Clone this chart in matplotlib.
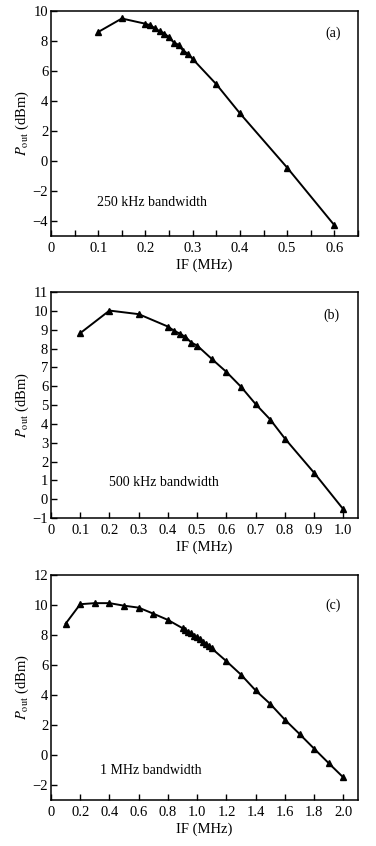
import matplotlib
matplotlib.use("Agg")
import matplotlib.pyplot as plt
import numpy as np

plt.rcParams["font.family"] = ["Liberation Serif", "DejaVu Serif"]
plt.rcParams["mathtext.fontset"] = "stix"

# (a) 250 kHz bandwidth
if_a = [0.10, 0.15, 0.20, 0.21, 0.22, 0.23, 0.24, 0.25, 0.26, 0.27, 0.28, 0.29,
        0.30, 0.35, 0.40, 0.50, 0.60]
pout_a = [8.6, 9.5, 9.15, 9.05, 8.85, 8.65, 8.5, 8.25, 7.9, 7.75, 7.35, 7.15,
          6.8, 5.12, 3.18, -0.44, -4.28]

# (b) 500 kHz bandwidth
if_b = [0.10, 0.20, 0.30, 0.40, 0.42, 0.44, 0.46, 0.48, 0.50, 0.55, 0.60, 0.65,
        0.70, 0.75, 0.80, 0.90, 1.00]
pout_b = [8.82, 10.02, 9.83, 9.17, 8.96, 8.8, 8.62, 8.32, 8.16, 7.45, 6.76, 5.97,
          5.05, 4.23, 3.22, 1.4, -0.54]

# (c) 1 MHz bandwidth
if_c = [0.1, 0.2, 0.3, 0.4, 0.5, 0.6, 0.7, 0.8, 0.9, 0.92, 0.94, 0.96, 0.98,
        1.0, 1.02, 1.04, 1.06, 1.08, 1.1, 1.2, 1.3, 1.4, 1.5, 1.6, 1.7, 1.8,
        1.9, 2.0]
pout_c = [8.75, 10.05, 10.12, 10.12, 9.95, 9.82, 9.42, 9.0, 8.45, 8.3, 8.2, 8.1,
          7.95, 7.85, 7.7, 7.55, 7.4, 7.25, 7.1, 6.25, 5.35, 4.3, 3.4, 2.35,
          1.4, 0.42, -0.55, -1.5]

panels = [
    dict(x=if_a, y=pout_a, tag="(a)", note="250 kHz bandwidth",
         xlim=(0, 0.65), ylim=(-5, 10),
         xticks=np.arange(0, 0.651, 0.05),
         xlabels=["0", "", "0.1", "", "0.2", "", "0.3", "", "0.4", "", "0.5", "", "0.6", ""],
         yticks=np.arange(-4, 10.1, 2), ylabels=["\u22124", "\u22122", "0", "2", "4", "6", "8", "10"],
         pos=[0.1356, 0.721, 0.8165, 0.266], note_xy=(0.15, 0.147), tag_xy=(0.92, 0.90)),
    dict(x=if_b, y=pout_b, tag="(b)", note="500 kHz bandwidth",
         xlim=(0, 1.05), ylim=(-1, 11),
         xticks=np.arange(0, 1.01, 0.1),
         xlabels=["0", "0.1", "0.2", "0.3", "0.4", "0.5", "0.6", "0.7", "0.8", "0.9", "1.0"],
         yticks=np.arange(-1, 11.1, 1),
         ylabels=["\u22121"] + [str(v) for v in range(0, 12)],
         pos=[0.1356, 0.3877, 0.8165, 0.267], note_xy=(0.19, 0.155), tag_xy=(0.915, 0.898)),
    dict(x=if_c, y=pout_c, tag="(c)", note="1 MHz bandwidth",
         xlim=(0, 2.1), ylim=(-3, 12),
         xticks=np.arange(0, 2.01, 0.2),
         xlabels=["0", "0.2", "0.4", "0.6", "0.8", "1.0", "1.2", "1.4", "1.6", "1.8", "2.0"],
         yticks=np.arange(-2, 12.1, 2), ylabels=["\u22122", "0", "2", "4", "6", "8", "10", "12"],
         pos=[0.1356, 0.0544, 0.8165, 0.266], note_xy=(0.16, 0.133), tag_xy=(0.92, 0.867)),
]

fig = plt.figure(figsize=(3.76, 8.46), dpi=100)

for p in panels:
    ax = fig.add_axes(p["pos"])
    ax.plot(p["x"], p["y"], "-^", color="black", lw=1.4, ms=4.5)
    ax.set_xlim(*p["xlim"])
    ax.set_ylim(*p["ylim"])
    ax.set_xticks(p["xticks"])
    ax.set_xticklabels(p["xlabels"])
    ax.set_yticks(p["yticks"])
    ax.set_yticklabels(p["ylabels"])
    ax.tick_params(direction="in", length=4.5, width=1, labelsize=10.5)
    ax.tick_params(axis="x", pad=4)
    ax.tick_params(axis="y", pad=2)
    for s in ax.spines.values():
        s.set_linewidth(1.1)
    ax.set_xlabel("IF (MHz)", fontsize=10.5, labelpad=3)
    ax.set_ylabel(r"$P_{\rm out}$ (dBm)", fontsize=10.5, labelpad=1)
    ax.text(*p["tag_xy"], p["tag"], transform=ax.transAxes, fontsize=10,
            ha="center", va="center")
    ax.text(*p["note_xy"], p["note"], transform=ax.transAxes, fontsize=10,
            ha="left", va="center")

fig.savefig("out.png", dpi=100)
